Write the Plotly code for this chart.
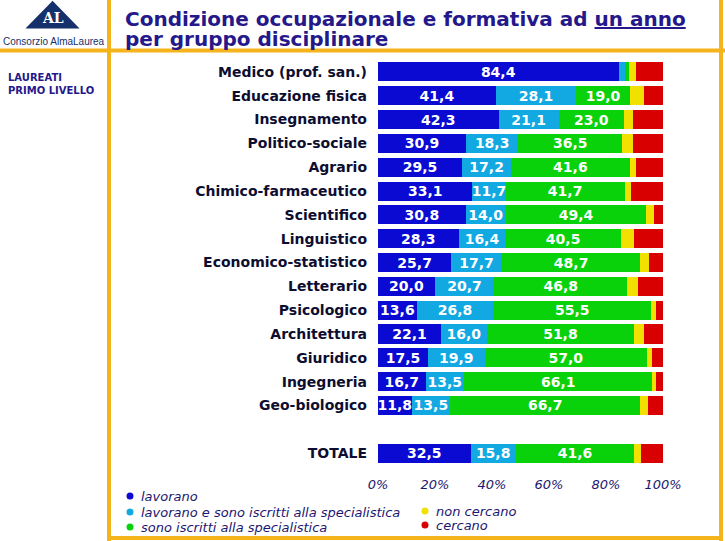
import plotly.graph_objects as go

categories = ["Medico (prof. san.)", "Educazione fisica", "Insegnamento", "Politico-sociale",
              "Agrario", "Chimico-farmaceutico", "Scientifico", "Linguistico",
              "Economico-statistico", "Letterario", "Psicologico", "Architettura",
              "Giuridico", "Ingegneria", "Geo-biologico", " ", "TOTALE"]

lavorano        = [84.4, 41.4, 42.3, 30.9, 29.5, 33.1, 30.8, 28.3, 25.7, 20.0, 13.6, 22.1, 17.5, 16.7, 11.8, None, 32.5]
lavorano_iscr   = [2.2, 28.1, 21.1, 18.3, 17.2, 11.7, 14.0, 16.4, 17.7, 20.7, 26.8, 16.0, 19.9, 13.5, 13.5, None, 15.8]
iscritti        = [1.4, 19.0, 23.0, 36.5, 41.6, 41.7, 49.4, 40.5, 48.7, 46.8, 55.5, 51.8, 57.0, 66.1, 66.7, None, 41.6]
non_cercano     = [2.5, 5.0, 3.2, 3.9, 2.1, 2.2, 2.5, 4.7, 3.0, 3.9, 1.5, 3.4, 1.8, 1.2, 2.7, None, 2.5]
cercano         = [9.5, 6.5, 10.4, 10.4, 9.6, 11.3, 3.3, 10.1, 4.9, 8.6, 2.6, 6.7, 3.8, 2.5, 5.3, None, 7.6]

series_names = ["lavorano", "lavorano e sono iscritti alla specialistica",
                "sono iscritti alla specialistica", "non cercano", "cercano"]
series_values = [lavorano, lavorano_iscr, iscritti, non_cercano, cercano]
series_colors = ["#0a0ad2", "#12a8e2", "#0ad20a", "#f2e000", "#d80000"]
labelled = [True, True, True, False, False]

tick_vals = [0, 20, 40, 60, 80, 100]
tick_text = ["0%", "20%", "40%", "60%", "80%", "100%"]

W, H = 725, 541
PX0, PX1 = 378, 663
PY0, PY1 = 60, 465

def fx(px):
    return (px - PX0) / (PX1 - PX0)

def fy(py):
    return (PY1 - py) / (PY1 - PY0)

def fmt(v):
    if v is None or v < 5:
        return ""
    return f"{v:.1f}".replace(".", ",")

fig = go.Figure()
for name, vals, col, lab in zip(series_names, series_values, series_colors, labelled):
    fig.add_trace(go.Bar(
        y=categories, x=vals, orientation="h", name=name,
        marker=dict(color=col, line=dict(width=0)),
        text=[fmt(v) for v in vals] if lab else None,
        textposition="inside" if lab else "none",
        insidetextanchor="middle",
        textfont=dict(family="DejaVu Sans", size=14, color="white", weight="bold"),
        showlegend=False, hoverinfo="skip",
    ))

navy = "#24188a"
legend_navy = "#1c1670"
orange = "#f6b41c"

shapes = []
def hline(py, x0, x1, w=4):
    shapes.append(dict(type="line", xref="paper", yref="paper",
                       x0=fx(x0), x1=fx(x1), y0=fy(py), y1=fy(py),
                       line=dict(color=orange, width=w), layer="above"))
def vline(px, y0, y1, w=4):
    shapes.append(dict(type="line", xref="paper", yref="paper",
                       x0=fx(px), x1=fx(px), y0=fy(y0), y1=fy(y1),
                       line=dict(color=orange, width=w), layer="above"))

hline(50.5, 0, 725)
vline(109, 0, 541)
vline(721, 0, 541)
hline(538, 109, 721)

# logo triangle
tri = "M {a},{b} L {c},{d} L {e},{f} Z".format(
    a=fx(52.5), b=fy(3), c=fx(29), d=fy(27), e=fx(76), f=fy(27))
shapes.append(dict(type="path", xref="paper", yref="paper", path=tri,
                   fillcolor="#15306a", line=dict(color="#15306a", width=3)))

annotations = [
    dict(text="AL", x=fx(52.5), y=fy(18), xref="paper", yref="paper", showarrow=False,
         xanchor="center", yanchor="middle",
         font=dict(family="DejaVu Serif", size=14, color="white", weight="bold")),
    dict(text="Consorzio AlmaLaurea", x=fx(54), y=fy(42), xref="paper", yref="paper",
         xanchor="center", yanchor="middle", showarrow=False,
         font=dict(family="Liberation Sans Narrow, Liberation Sans", size=10, color="#15306a")),
    dict(text="LAUREATI<br>PRIMO LIVELLO", x=fx(6), y=fy(70), xref="paper", yref="paper",
         xanchor="left", yanchor="top", align="left", showarrow=False,
         font=dict(family="DejaVu Sans", size=10, color=navy, weight="bold")),
    dict(text="Condizione occupazionale e formativa ad <u>un anno</u>",
         x=fx(123), y=fy(19), xref="paper", yref="paper", xanchor="left", yanchor="middle",
         align="left", showarrow=False,
         font=dict(family="DejaVu Sans", size=20, color=navy, weight="bold")),
    dict(text="per gruppo disciplinare",
         x=fx(123), y=fy(39), xref="paper", yref="paper", xanchor="left", yanchor="middle",
         align="left", showarrow=False,
         font=dict(family="DejaVu Sans", size=20, color=navy, weight="bold")),
]

# custom two-column legend (dot + italic label)
legend_pos = [(130, 496), (130, 512), (130, 527), (425, 511), (425, 525)]
for name, col, (lx, ly) in zip(series_names, series_colors, legend_pos):
    shapes.append(dict(type="circle", xref="paper", yref="paper",
                       x0=fx(lx - 3.5), x1=fx(lx + 3.5), y0=fy(ly + 3.5), y1=fy(ly - 3.5),
                       fillcolor=col, line=dict(width=0)))
    annotations.append(dict(text=name, x=fx(lx + 9), y=fy(ly), xref="paper", yref="paper",
                            xanchor="left", yanchor="middle", showarrow=False,
                            font=dict(family="DejaVu Sans", size=13, color=legend_navy,
                                      style="italic")))

fig.update_layout(
    width=W, height=H,
    margin=dict(l=PX0, r=W - PX1, t=PY0, b=H - PY1, autoexpand=False),
    barmode="stack", bargap=0.2, showlegend=False,
    paper_bgcolor="white", plot_bgcolor="white",
    uniformtext=dict(minsize=14, mode="show"),
    xaxis=dict(range=[0, 100], tickvals=tick_vals, ticktext=tick_text,
               showgrid=False, zeroline=False, showline=False,
               ticks="", ticklabelstandoff=10,
               tickfont=dict(family="DejaVu Sans", size=13, color=legend_navy, style="italic")),
    yaxis=dict(categoryorder="array", categoryarray=categories, autorange="reversed",
               showgrid=False, zeroline=False, showline=False, ticks="",
               ticklabelstandoff=10,
               tickfont=dict(family="DejaVu Sans", size=14, color="#0d0d30", weight="bold")),
    shapes=shapes, annotations=annotations,
)

fig.write_html("out.html", config={"displayModeBar": False},
               post_script="document.body.style.margin='0';")
